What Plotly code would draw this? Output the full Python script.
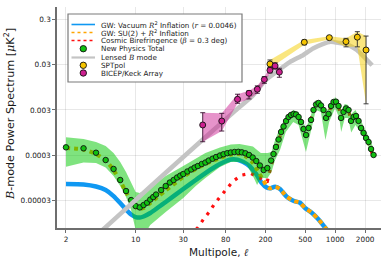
import plotly.graph_objects as go

# ---------------- data ----------------
blue_ell = [2, 3, 4, 5, 6, 7, 8, 9, 10, 11, 12, 14, 17, 20, 30, 40, 50, 70, 90, 105, 120,
            140, 164, 184, 206, 222, 250, 280, 327, 381, 445, 499, 583, 679, 792, 900]
blue_val = [6.97e-5, 6.8e-5, 6.14e-5, 5.14e-5, 3.79e-5, 2.65e-5, 1.91e-5, 1.48e-5, 1.30e-5, 1.27e-5, 1.34e-5,
            1.60e-5, 2.17e-5, 2.80e-5, 5.42e-5, 8.55e-5, 1.22e-4, 1.93e-4, 2.42e-4, 2.40e-4, 2.13e-4,
            1.70e-4, 1.10e-4, 7.34e-5, 5.84e-5, 5.6e-5, 6.08e-5, 5.41e-5, 3.66e-5, 2.98e-5, 2.70e-5,
            2.06e-5, 1.62e-5, 1.16e-5, 7.7e-6, 5.5e-6]

su2_ell = [2, 3, 4, 5, 6, 7, 8, 9, 10, 11, 12, 14, 17, 20, 30, 40, 50, 70, 90, 110, 130,
           150, 170, 190, 206, 222, 250, 280, 327, 381, 445, 499, 583, 679, 792, 900]
su2_val = [4.35e-4, 4.03e-4, 3.20e-4, 2.30e-4, 1.42e-4, 8.12e-5, 4.64e-5, 2.94e-5, 2.17e-5, 1.96e-5, 2.06e-5,
           2.65e-5, 3.79e-5, 5.01e-5, 9.95e-5, 1.50e-4, 1.93e-4, 2.62e-4, 3.12e-4, 3.20e-4, 2.75e-4,
           2.03e-4, 1.28e-4, 8.55e-5, 6.30e-5, 5.6e-5, 6.08e-5, 5.41e-5, 3.66e-5, 2.98e-5, 2.70e-5,
           2.06e-5, 1.62e-5, 1.16e-5, 7.7e-6, 5.5e-6]

cb_ell = [30, 36, 42, 48, 55, 62, 72, 82, 95, 116, 142, 160, 176, 192, 209,
          228, 241, 255, 271, 287, 304, 322, 341, 361, 383, 405, 430, 455, 482, 511, 541, 573, 607,
          644, 682, 722, 765, 811, 859, 910, 964, 1021, 1082, 1146, 1214, 1287, 1363, 1444, 1530,
          1621, 1717, 1819, 1927, 2042, 2163, 2292, 2428]
cb_val = [3.7e-6, 5.4e-6, 7.6e-6, 1.18e-5, 1.72e-5, 2.6e-5, 3.8e-5, 5.6e-5, 8.1e-5, 1.10e-4,
          1.20e-4, 1.05e-4, 9.5e-5, 8.2e-5, 8.0e-5,
          1.75e-4, 2.65e-4, 4.0e-4, 6.1e-4, 9.3e-4, 1.25e-3, 1.67e-3, 2.06e-3, 2.30e-3, 2.42e-3,
          2.36e-3, 2.07e-3, 1.60e-3, 1.11e-3, 8.1e-4, 1.17e-3, 1.78e-3, 2.97e-3, 3.94e-3, 4.25e-3,
          3.74e-3, 2.97e-3, 1.97e-3, 2.42e-3, 3.65e-3, 4.47e-3, 4.54e-3, 3.65e-3, 1.97e-3, 2.68e-3,
          3.21e-3, 2.97e-3, 1.69e-3, 2.07e-3, 2.18e-3, 1.69e-3, 1.17e-3, 9.0e-4, 6.9e-4, 5.6e-4,
          3.8e-4, 2.7e-4]

tot_ell = [2, 3, 4, 5, 6, 7, 8, 9, 10, 11, 12, 13, 14, 15, 16, 18, 20, 22, 24, 26, 28, 30,
           33, 36, 39, 42, 46, 50, 54, 59, 64, 70, 76, 83, 90, 98, 107, 116, 126, 137, 149, 162,
           176, 192, 209, 228, 241, 255, 271, 287, 304, 322, 341, 361, 383, 405, 430, 455, 482,
           511, 541, 573, 607, 644, 682, 722, 765, 811, 859, 910, 964, 1021, 1082, 1146, 1214,
           1287, 1363, 1444, 1530, 1621, 1717, 1819, 1927, 2042, 2163, 2292, 2428]
tot_val = [4.50e-4, 4.28e-4, 3.42e-4, 2.36e-4, 1.50e-4, 8.55e-5, 4.89e-5, 3.09e-5, 2.28e-5, 2.13e-5,
           2.40e-5, 2.70e-5, 3.17e-5, 3.60e-5, 4.09e-5, 5.14e-5, 6.30e-5, 7.53e-5, 8.55e-5, 9.70e-5,
           1.07e-4, 1.16e-4, 1.32e-4, 1.46e-4, 1.61e-4, 1.74e-4, 1.93e-4, 2.08e-4, 2.30e-4, 2.52e-4,
           2.75e-4, 2.97e-4, 3.17e-4, 3.34e-4, 3.46e-4, 3.55e-4, 3.58e-4, 3.49e-4, 3.32e-4, 3.05e-4,
           2.68e-4, 2.24e-4, 1.79e-4, 1.42e-4, 1.57e-4, 2.30e-4, 3.20e-4, 4.57e-4, 6.69e-4, 9.80e-4,
           1.30e-3, 1.71e-3, 2.10e-3, 2.33e-3, 2.45e-3, 2.39e-3, 2.10e-3, 1.63e-3, 1.14e-3, 8.42e-4,
           1.20e-3, 1.81e-3, 3.00e-3, 3.97e-3, 4.28e-3, 3.77e-3, 3.00e-3, 2.00e-3, 2.45e-3, 3.68e-3,
           4.50e-3, 4.57e-3, 3.68e-3, 2.00e-3, 2.71e-3, 3.24e-3, 3.00e-3, 1.72e-3, 2.10e-3, 2.21e-3,
           1.72e-3, 1.20e-3, 9.32e-4, 7.23e-4, 5.90e-4, 4.13e-4, 3.05e-4]

band_ell = [2, 3, 4, 5, 6, 7, 8, 9, 10, 11, 12, 13, 14, 16, 20, 30, 40, 50, 70, 90, 110, 130, 150,
            165, 180, 210, 230, 250, 280, 320, 380, 430, 480, 510, 560, 640, 720, 800, 870, 1000,
            1100, 1150, 1250, 1350, 1450, 1600, 1800, 2050, 2300, 2450]
band_hi = [7.49e-4, 6.87e-4, 5.90e-4, 4.81e-4, 3.37e-4, 2.13e-4, 1.28e-4, 7.34e-5, 4.64e-5, 4.41e-5,
           4.89e-5, 5.14e-5, 5.69e-5, 7.34e-5, 1.05e-4, 1.74e-4, 2.55e-4, 3.37e-4, 4.46e-4, 5.19e-4,
           5.33e-4, 5.06e-4, 4.69e-4, 3.93e-4, 3.37e-4, 3.37e-4, 3.55e-4, 6.53e-4, 1.20e-3, 2.10e-3,
           3.00e-3, 2.71e-3, 1.63e-3, 1.20e-3, 2.00e-3, 4.99e-3, 4.74e-3, 2.71e-3, 3.32e-3, 5.81e-3,
           4.28e-3, 3.00e-3, 4.07e-3, 3.87e-3, 2.45e-3, 3.00e-3, 1.81e-3, 9.8e-4, 5.9e-4, 3.93e-4]
band_lo = [1.68e-4, 2.08e-4, 2.03e-4, 1.61e-4, 1.05e-4, 6.30e-5, 3.60e-5, 1.86e-5, 6.7e-6, 4.0e-6,
           4.0e-6, 6.7e-6, 8.7e-6, 1.12e-5, 1.68e-5, 3.42e-5, 6.30e-5, 9.46e-5, 1.66e-4, 2.13e-4,
           2.13e-4, 1.83e-4, 1.05e-4, 6.63e-5, 9.46e-5, 9.46e-5, 1.28e-4, 2.36e-4, 3.93e-4, 9.80e-4,
           1.63e-3, 1.40e-3, 5.90e-4, 3.55e-4, 8.42e-4, 3.00e-3, 2.71e-3, 6.53e-4, 1.63e-3, 3.32e-3,
           2.00e-3, 9.80e-4, 2.00e-3, 2.00e-3, 9.57e-4, 1.40e-3, 9.80e-4, 5.90e-4, 3.55e-4, 2.62e-4]

lens_ell = [2, 5, 10, 20, 50, 100, 150, 200, 260, 350, 480, 600, 750, 900, 1100, 1350, 1650, 1900, 2350]
lens_val = [1.3e-6, 7.8e-6, 3.1e-5, 1.24e-4, 7.5e-4, 2.9e-3, 6.3e-3, 1.35e-2, 2.1e-2, 3.4e-2,
            4.9e-2, 6.8e-2, 8.5e-2, 9.6e-2, 9.0e-2, 8.2e-2, 6.3e-2, 4.7e-2, 2.9e-2]

spt_ell = [222, 491, 875, 1285, 1670, 2042]
spt_val = [0.031, 0.0935, 0.118, 0.0966, 0.121, 0.063]
spt_lo = [0.025, 0.082, 0.107, 0.074, 0.074, 0.0041]
spt_hi = [0.038, 0.105, 0.126, 0.114, 0.16, 0.128]

bk_ell = [47, 73, 105, 137, 166, 195, 222, 250, 276]
bk_val = [1.40e-3, 1.71e-3, 5.16e-3, 7.0e-3, 8.6e-3, 1.41e-2, 2.25e-2, 2.81e-2, 2.05e-2]
bk_lo = [5.98e-4, 1.03e-3, 4.21e-3, 5.25e-3, 7.0e-3, 1.16e-2, 1.97e-2, 2.4e-2, 1.58e-2]
bk_hi = [2.61e-3, 2.53e-3, 6.67e-3, 8.0e-3, 1.02e-2, 1.63e-2, 2.6e-2, 3.3e-2, 2.49e-2]

x_ticks = [2, 10, 30, 80, 200, 500, 1000, 2000]
y_ticks = [0.00003, 0.0003, 0.003, 0.03, 0.3]
y_tick_text = ["0.00003", "0.0003", "0.003", "0.03", "0.3"]

# ---------------- styling ----------------
W, H = 389, 259
ML, MR, MT, MB = 57, 8, 7, 31
BLUE = "#0f98f2"
ORANGE = "#ffa500"
RED = "#ff1010"
GREEN = "#10c010"
GRAY = "#c4c4c4"
GOLD = "#f5c400"
MAGENTA = "#cc1f8f"
SERIF = "DejaVu Serif"
SANS = "DejaVu Sans"


def m(s):
    return '<span style="font-family:%s"><i>%s</i></span>' % (SERIF, s)


fig = go.Figure()

fig.add_trace(go.Scatter(x=blue_ell, y=blue_val, mode="lines",
                         line=dict(color=BLUE, width=4.5, shape="spline", smoothing=0.6)))
fig.add_trace(go.Scatter(x=su2_ell, y=su2_val, mode="lines",
                         line=dict(color=ORANGE, width=4, dash="4px,4px", shape="spline", smoothing=0.6)))
fig.add_trace(go.Scatter(x=cb_ell, y=cb_val, mode="lines",
                         line=dict(color=RED, width=3.2, dash="3px,6px")))
# new physics band
fig.add_trace(go.Scatter(x=band_ell, y=band_hi, mode="lines", line=dict(width=0, color="rgba(0,0,0,0)")))
fig.add_trace(go.Scatter(x=band_ell, y=band_lo, mode="lines", line=dict(width=0, color="rgba(0,0,0,0)"),
                         fill="tonexty", fillcolor="rgba(0,200,0,0.5)"))
fig.add_trace(go.Scatter(x=tot_ell, y=tot_val, mode="markers",
                         marker=dict(color=GREEN, size=5.5, line=dict(color="#111", width=0.9))))
fig.add_trace(go.Scatter(x=lens_ell, y=lens_val, mode="lines",
                         line=dict(color=GRAY, width=4.5, shape="spline", smoothing=0.5)))
# SPTpol
fig.add_trace(go.Scatter(x=spt_ell, y=spt_hi, mode="lines", line=dict(width=0, color="rgba(0,0,0,0)")))
fig.add_trace(go.Scatter(x=spt_ell, y=spt_lo, mode="lines", line=dict(width=0, color="rgba(0,0,0,0)"),
                         fill="tonexty", fillcolor="rgba(245,205,0,0.5)"))
fig.add_trace(go.Scatter(
    x=spt_ell, y=spt_val, mode="markers",
    marker=dict(color=GOLD, size=6, line=dict(color="#111", width=0.9)),
    error_y=dict(type="data", symmetric=False,
                 array=[h - v for h, v in zip(spt_hi, spt_val)],
                 arrayminus=[v - l for v, l in zip(spt_val, spt_lo)],
                 color="#2a2a2a", thickness=0.9, width=2.5)))
# BICEP/Keck
fig.add_trace(go.Scatter(x=bk_ell, y=bk_hi, mode="lines", line=dict(width=0, color="rgba(0,0,0,0)")))
fig.add_trace(go.Scatter(x=bk_ell, y=bk_lo, mode="lines", line=dict(width=0, color="rgba(0,0,0,0)"),
                         fill="tonexty", fillcolor="rgba(205,40,150,0.5)"))
fig.add_trace(go.Scatter(
    x=bk_ell, y=bk_val, mode="markers",
    marker=dict(color=MAGENTA, size=6, line=dict(color="#111", width=0.9)),
    error_y=dict(type="data", symmetric=False,
                 array=[h - v for h, v in zip(bk_hi, bk_val)],
                 arrayminus=[v - l for v, l in zip(bk_val, bk_lo)],
                 color="#3a1030", thickness=0.9, width=2.5)))

# ---------------- manual legend (Plots.jl style) ----------------
PW, PH = W - ML - MR, H - MT - MB


def px(x):
    return (x - ML) / PW


def py(y):
    return (H - MB - y) / PH


shapes = [dict(type="rect", xref="paper", yref="paper", x0=px(68), x1=px(242), y0=py(82), y1=py(14),
               fillcolor="white", line=dict(color="#7a7a7a", width=1.2), layer="above")]
annots = []
legend_items = [
    ("GW: Vacuum %s<sup>2</sup> Inflation (%s = 0.0046)" % (m("R"), m("r")), "line", BLUE, "solid"),
    ("GW: SU(2) + %s<sup>2</sup> Inflation" % m("R"), "line", ORANGE, "dot"),
    ("Cosmic Birefringence (%s = 0.3 deg)" % m("β"), "line", RED, "dot"),
    ("New Physics Total", "marker", GREEN, None),
    ("Lensed %s mode" % m("B"), "line", GRAY, "solid"),
    ("SPTpol", "marker", GOLD, None),
    ("BICEP/Keck Array", "marker", MAGENTA, None),
]
rows = [24.5, 32.5, 40.5, 48.7, 57.5, 65.3, 73.0]
for (label, kind, color, dash), ry in zip(legend_items, rows):
    if kind == "line":
        shapes.append(dict(type="line", xref="paper", yref="paper", x0=px(71.5), x1=px(95),
                           y0=py(ry), y1=py(ry), layer="above",
                           line=dict(color=color, width=1.6 if color != GRAY else 2.2, dash=dash)))
    else:
        shapes.append(dict(type="circle", xref="paper", yref="paper", x0=px(83.3 - 3.2), x1=px(83.3 + 3.2),
                           y0=py(ry + 3.2), y1=py(ry - 3.2), layer="above", fillcolor=color,
                           line=dict(color="#111", width=0.9)))
    annots.append(dict(x=px(99), y=py(ry), xref="paper", yref="paper", text=label, showarrow=False,
                       xanchor="left", yanchor="middle", font=dict(family=SANS, size=7.2, color="#1a1a1a")))

# axis titles
annots.append(dict(x=0.5, y=py(251.5), xref="paper", yref="paper", text="Multipole, " + m("ℓ"),
                   showarrow=False, xanchor="center", yanchor="middle",
                   font=dict(family=SANS, size=10.5, color="#1a1a1a")))
annots.append(dict(x=px(10), y=py(114), xref="paper", yref="paper", textangle=-90,
                   text="%s-mode Power Spectrum [%sK<sup>2</sup>]" % (m("B"), m("μ")),
                   showarrow=False, xanchor="center", yanchor="middle",
                   font=dict(family=SANS, size=11.2, color="#1a1a1a")))

axis_common = dict(type="log", showgrid=True, gridcolor="rgba(0,0,0,0.09)", gridwidth=0.7,
                   showline=True, linecolor="#6e6e6e", linewidth=1.5, ticks="outside", ticklen=3,
                   tickcolor="#6e6e6e", tickfont=dict(family=SANS, size=7.3, color="#1a1a1a"),
                   zeroline=False, mirror=False)

fig.update_layout(
    width=W, height=H, margin=dict(l=ML, r=MR, t=MT, b=MB, pad=0),
    paper_bgcolor="white", plot_bgcolor="white", showlegend=False,
    xaxis=dict(range=[0.211, 3.46], tickvals=x_ticks, ticktext=[str(t) for t in x_ticks], **axis_common),
    yaxis=dict(range=[-5.126, -0.252], tickvals=y_ticks, ticktext=y_tick_text, **axis_common),
    shapes=shapes, annotations=annots,
)

fig.write_html("out.html", config={"displayModeBar": False},
               post_script="document.body.style.margin='0';document.body.style.padding='0';"
                           "document.body.style.overflow='hidden';")
